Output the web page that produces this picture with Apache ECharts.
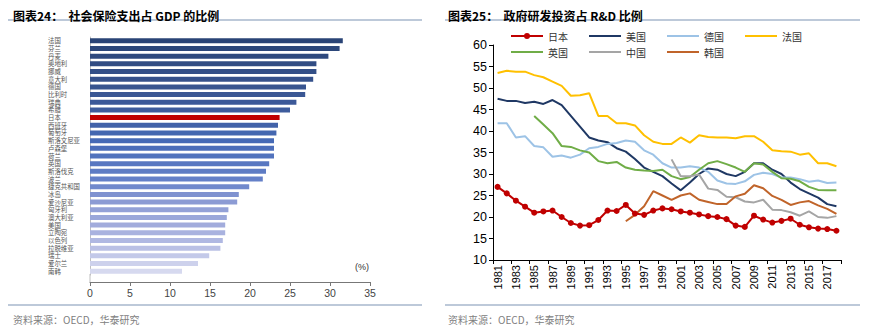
<!DOCTYPE html>
<html><head><meta charset="utf-8">
<script src="https://cdn.jsdelivr.net/npm/echarts@6/dist/echarts.min.js"></script>
<style>html,body{margin:0;padding:0;background:#fff}#c{width:870px;height:326px}</style>
</head><body><div id="c"></div>
<script>
// ---- Left chart data: social security expenditure as % of GDP ----
const countries = ['法国','芬兰','丹麦','奥地利','挪威','意大利','德国','比利时','瑞典','希腊','日本','西班牙','葡萄牙','斯洛文尼亚','卢森堡','荷兰','英国','斯洛伐克','波兰','捷克共和国','冰岛','爱沙尼亚','匈牙利','澳大利亚','美国','立陶宛','以色列','拉脱维亚','瑞士','爱尔兰','南韩'];
const shares = [31.6,31.2,29.8,28.3,28.3,27.9,27.0,26.9,25.8,25.0,23.7,23.5,23.3,23.0,23.0,23.0,22.4,22.0,21.6,19.9,18.6,18.4,17.3,17.1,16.9,16.9,16.6,16.3,14.9,13.5,11.5];
const highlight = '日本';

// ---- Right chart data: government-financed share of R&D ----
const years = ['1981','1982','1983','1984','1985','1986','1987','1988','1989','1990','1991','1992','1993','1994','1995','1996','1997','1998','1999','2000','2001','2002','2003','2004','2005','2006','2007','2008','2009','2010','2011','2012','2013','2014','2015','2016','2017','2018'];
const japan = [27,25.5,23.8,22.4,21,21.3,21.5,20,18.6,18, 18.1,19.3,21.5,21.4,22.8,20.8,20.5,21.5,22,21.8, 21.3,21,20.6,20.2,20,19.5,18,17.7,20.3,19.4, 18.7,19.1,19.6,18.2,17.6,17.3,17.2,16.8];
const usa = [47.5,47,47,46.5,46.8,46.3,47.2,46,43.5,41, 38.5,37.8,37.4,36,35.2,33.5,31.5,30.5,29.5,27.8, 26.2,28,30,31.3,31,30,29.5,30.5,32.5,32.5, 31,30,28,26.5,25.5,24.5,23,22.5];
const germany = [41.8,41.8,38.5,38.8,36.5,36.2,34,34.3,33.8,34.5, 36,36.3,37,37.2,37.8,37.5,35.5,34.5,32.5,31.5, 31.5,31.8,31.5,30.5,28.5,27.8,27.7,28.3,29.8,30.3, 30,29.2,29.2,28.8,28.2,28.5,27.9,28];
const france = [53.5,54,53.8,53.8,53,52.5,51.5,50.5,48.2,48.3, 48.8,43.5,43.5,41.8,41.8,41.3,39,37.5,37,37, 38.5,37.3,39,38.6,38.5,38.5,38.3,38.8,38.8,37.5, 35.5,35.3,35.2,34.5,34.8,32.5,32.5,31.8];
const uk = [null,null,null,null,43.5,41.5,39.5,36.5,36.3,35.5, 35,33,32.5,32.8,31.5,31,30.8,30.7,31,29.5, 28.8,29.3,31,32.5,33,32.3,31.5,30.5,32.5,32.2, 30.5,29,28.9,28.3,27,26.3,26.2,26.2];
const china = [null,null,null,null,null,null,null,null,null,null, null,null,null,null,null,null,null,null,null,33.4, 29.5,29.5,29.9,26.6,26.3,24.7,24.6,23.6,23.4,24.0, 21.7,21.6,21.1,20.3,21.3,20.0,19.8,20.2];
const korea = [null,null,null,null,null,null,null,null,null,null, null,null,null,null,19,20.5,22.5,26,25,24, 25,25.5,24,23.5,23,23,24.8,25.4,27.4,26.7, 24.9,24,22.8,23.4,23.7,22.7,21.9,20.7];
const seriesNames = ['日本','美国','德国','法国','英国','中国','韩国'];
const legendRow1 = ['日本','美国','德国','法国'];
const legendRow2 = ['英国','中国','韩国'];

const FONT = '"Liberation Sans", Arial, "Noto Sans CJK SC", sans-serif';
const CJK = '"Noto Sans CJK SC", "Liberation Sans", sans-serif';

// bar colour ramp (styling only)
const stops = [[0,[42,68,118]],[9,[62,92,156]],[13,[70,106,182]],[18,[100,128,200]],[21,[140,155,212]],[26,[176,184,226]],[30,[214,217,239]]];
function rampColor(i){
  for(let k=0;k<stops.length-1;k++){
    const a=stops[k],b=stops[k+1];
    if(i>=a[0]&&i<=b[0]){
      const t=(i-a[0])/(b[0]-a[0]);
      const c=a[1].map((v,j)=>Math.round(v+(b[1][j]-v)*t));
      return 'rgb('+c.join(',')+')';
    }
  }
  return 'rgb(214,217,239)';
}

const lineColors = {'日本':'#C00000','美国':'#1F3864','德国':'#9DC3E6','法国':'#FFC000','英国':'#70AD47','中国':'#A5A5A5','韩国':'#C0642A'};
const lineData = {'日本':japan,'美国':usa,'德国':germany,'法国':france,'英国':uk,'中国':china,'韩国':korea};

const chart = echarts.init(document.getElementById('c'), null, {renderer:'svg'});

const lineSeries = seriesNames.map(n => ({
  name:n, type:'line', xAxisIndex:1, yAxisIndex:1,
  data: lineData[n],
  symbol: n==='日本' ? 'circle' : 'none',
  symbolSize: 6,
  showSymbol: n==='日本',
  connectNulls:false,
  lineStyle:{color:lineColors[n], width:2},
  itemStyle:{color:lineColors[n]},
  z: n==='日本' ? 5 : 2,
  animation:false
}));

const LINE_ICON = 'path://M0,4L32,4L32,6L0,6Z';
const DOT_LINE_ICON = 'path://M0,4L13.2,4L13.2,6L0,6Z M18.8,4L32,4L32,6L18.8,6Z M13,5a3,3 0 1,1 6,0a3,3 0 1,1 -6,0Z';
function legendItems(names){
  return names.map(n => ({name:n, icon: n==='日本' ? DOT_LINE_ICON : LINE_ICON}));
}

const ruleColor = '#A7B7CD';
chart.setOption({
  animation:false,
  textStyle:{fontFamily:FONT},
  title:[
    {text:'图表24：  社会保险支出占 GDP 的比例', left:8, top:4, textStyle:{fontFamily:CJK,fontSize:12,fontWeight:'bold',color:'#000'}},
    {text:'图表25：  政府研发投资占 R&D 比例', left:443, top:4, textStyle:{fontFamily:CJK,fontSize:12,fontWeight:'bold',color:'#000'}},
    {text:'资料来源：OECD，华泰研究', left:8, top:309, textStyle:{fontFamily:CJK,fontSize:10,fontWeight:'normal',color:'#808080'}},
    {text:'资料来源：OECD，华泰研究', left:443, top:309, textStyle:{fontFamily:CJK,fontSize:10,fontWeight:'normal',color:'#808080'}}
  ],
  graphic:[
    {type:'line', shape:{x1:8,y1:20,x2:422,y2:20}, style:{stroke:ruleColor,lineWidth:1.5}},
    {type:'line', shape:{x1:445,y1:20,x2:860,y2:20}, style:{stroke:ruleColor,lineWidth:1.5}},
    {type:'line', shape:{x1:8,y1:305,x2:422,y2:305}, style:{stroke:ruleColor,lineWidth:1.5}},
    {type:'line', shape:{x1:445,y1:305,x2:860,y2:305}, style:{stroke:ruleColor,lineWidth:1.5}},
    {type:'line', shape:{x1:90,y1:274,x2:90,y2:282}, style:{stroke:'#BFBFBF',lineWidth:1}},
    {type:'text', left:355, top:262, style:{text:'(%)', fontSize:9, fill:'#333', fontFamily:FONT}}
  ],
  legend:[
    {data:legendItems(legendRow1), left:511, top:31, itemWidth:32, itemHeight:10, itemGap:21, padding:0,
     textStyle:{fontFamily:CJK,fontSize:10,color:'#333'}},
    {data:legendItems(legendRow2), left:511, top:47, itemWidth:32, itemHeight:10, itemGap:21, padding:0,
     textStyle:{fontFamily:CJK,fontSize:10,color:'#333'}}
  ],
  grid:[
    {left:90, top:37, width:280, height:238},
    {left:493, top:45, right:29, bottom:66}
  ],
  xAxis:[
    {type:'value', gridIndex:0, min:0, max:35, interval:5, offset:7,
     axisLine:{show:true,lineStyle:{color:'#777'}},
     axisTick:{show:true,length:4,lineStyle:{color:'#777'}},
     splitLine:{show:false},
     axisLabel:{fontSize:10.5,color:'#444',margin:6}},
    {type:'category', gridIndex:1, data:years, boundaryGap:true,
     axisLine:{show:true,lineStyle:{color:'#000'}},
     axisTick:{show:true,interval:1,length:4,lineStyle:{color:'#000'}},
     axisLabel:{interval:1,rotate:90,fontSize:11,color:'#000',margin:5}}
  ],
  yAxis:[
    {type:'category', gridIndex:0, data:countries, inverse:true,
     axisLine:{show:true,lineStyle:{color:'#BFBFBF'}},
     axisTick:{show:false},
     axisLabel:{fontFamily:CJK,fontSize:6.4,color:'#555',align:'left',margin:42,interval:0}},
    {type:'value', gridIndex:1, min:10, max:60, interval:5,
     axisLine:{show:true,lineStyle:{color:'#000'}},
     axisTick:{show:true,length:4,lineStyle:{color:'#000'}},
     splitLine:{show:false},
     axisLabel:{fontSize:12.5,color:'#000',margin:6}}
  ],
  series:[
    {type:'bar', xAxisIndex:0, yAxisIndex:0, data:shares, barWidth:5,
     itemStyle:{color:function(p){return countries[p.dataIndex]===highlight?'#C00000':rampColor(p.dataIndex);}},
     animation:false}
  ].concat(lineSeries)
});
</script>
</body></html>
